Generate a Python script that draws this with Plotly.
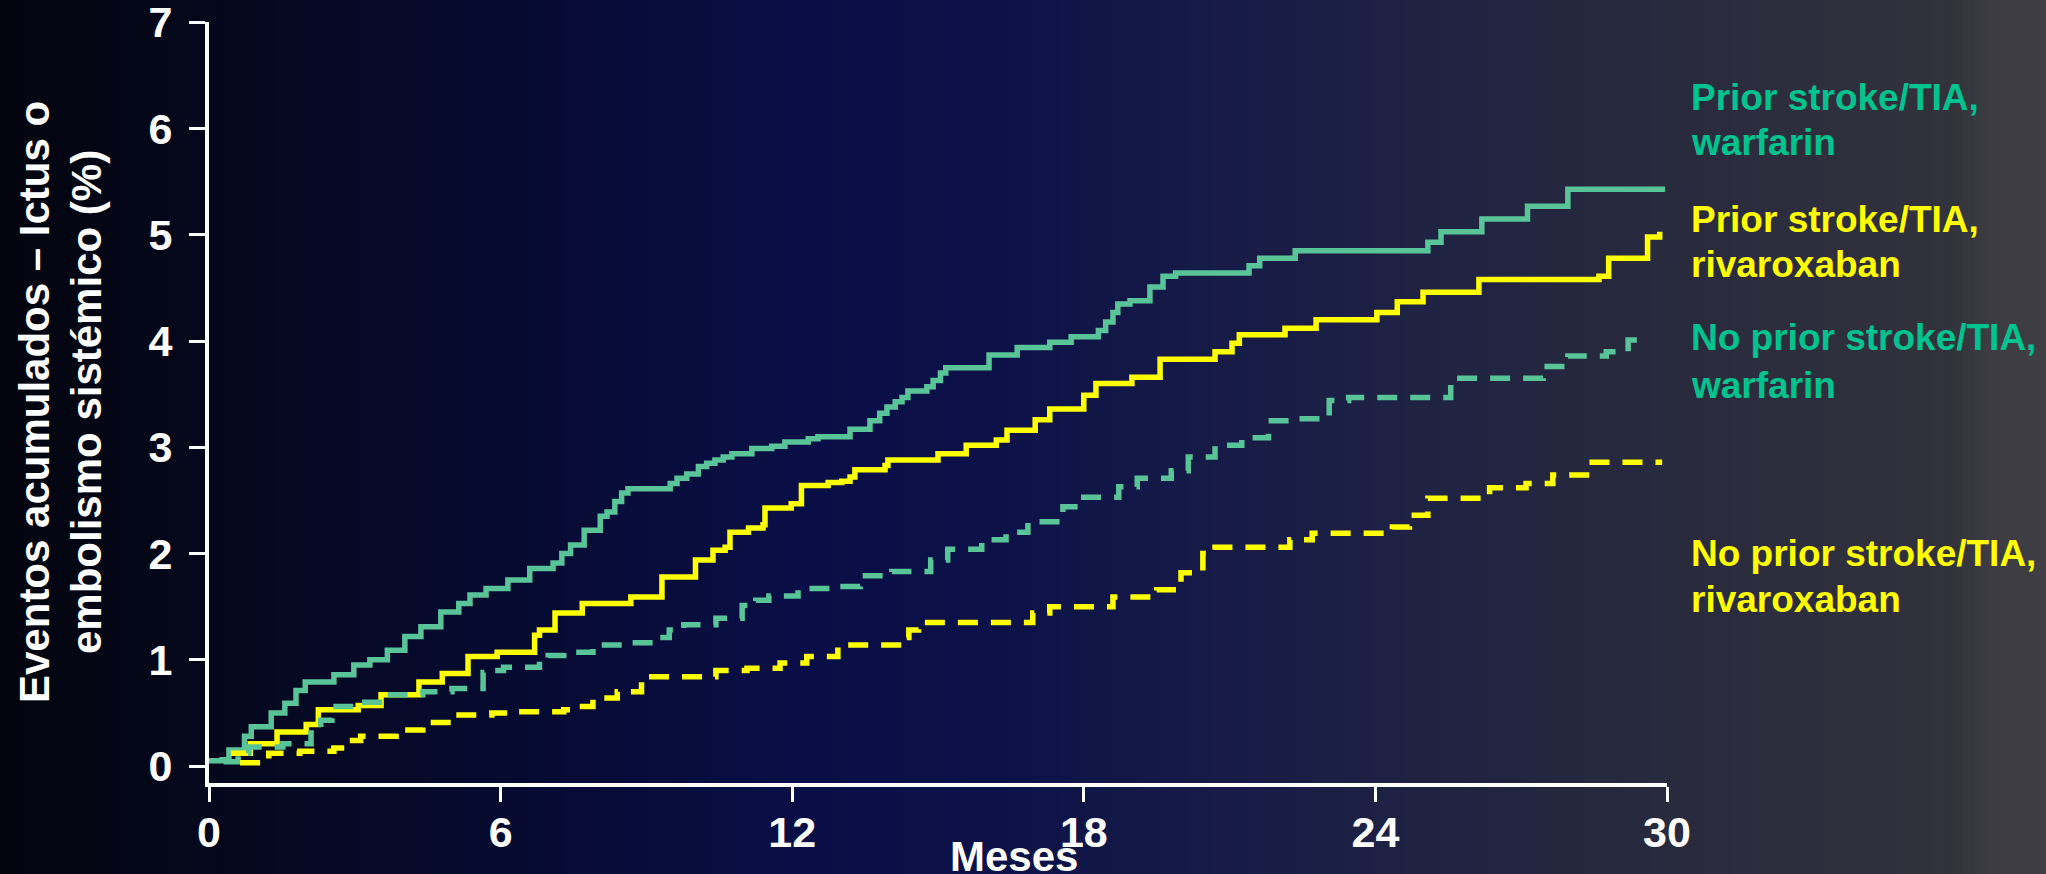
import numpy as np
import plotly.graph_objects as go

W, H = 2046, 874
ML, MR, MT, MB = 209, 379, 22, 91
PW, PH = W - ML - MR, H - MT - MB

# Cumulative event curves: month of each step and cumulative % after it
prior_warf_m = [0.0, 0.27, 0.41, 0.73, 0.87, 1.28, 1.56, 1.79, 1.98, 2.57, 2.98, 3.31, 3.67, 4.03, 4.36,
                4.77, 5.14, 5.37, 5.70, 6.15, 6.60, 7.08, 7.26, 7.44, 7.72, 8.05, 8.19, 8.35, 8.49, 8.62,
                9.49, 9.63, 9.83, 10.07, 10.24, 10.41, 10.58, 10.76, 11.17, 11.58, 11.85, 12.33, 12.53,
                13.19, 13.60, 13.80, 13.95, 14.12, 14.26, 14.38, 14.77, 14.90, 15.05, 15.16, 16.05, 16.63,
                17.30, 17.74, 18.30, 18.45, 18.60, 18.70, 18.95, 19.36, 19.63, 19.89, 21.40, 21.62, 22.35,
                25.08, 25.35, 26.19, 27.13, 27.96, 29.96]
prior_warf_v = [0.05, 0.06, 0.15, 0.28, 0.37, 0.50, 0.59, 0.71, 0.79, 0.86, 0.95, 1.00, 1.09, 1.22, 1.31,
                1.45, 1.53, 1.61, 1.67, 1.75, 1.86, 1.91, 2.00, 2.08, 2.22, 2.35, 2.39, 2.49, 2.57, 2.61,
                2.66, 2.71, 2.75, 2.82, 2.85, 2.88, 2.91, 2.94, 2.99, 3.01, 3.05, 3.08, 3.10,
                3.17, 3.25, 3.32, 3.38, 3.43, 3.47, 3.53, 3.57, 3.63, 3.70, 3.75, 3.87, 3.94,
                3.99, 4.04, 4.10, 4.18, 4.27, 4.35, 4.38, 4.51, 4.61, 4.64, 4.71, 4.78, 4.85,
                4.93, 5.03, 5.15, 5.27, 5.43, 5.43]

prior_riva_m = [0.45, 0.85, 1.40, 2.00, 2.25, 3.07, 3.54, 4.32, 4.80, 5.33, 5.93, 6.70, 6.80, 7.12, 7.68,
                8.68, 9.32, 10.01, 10.37, 10.62, 10.72, 11.10, 11.40, 11.44, 11.98, 12.19, 12.74, 13.02,
                13.19, 13.29, 13.91, 13.97, 15.00, 15.58, 16.20, 16.42, 17.00, 17.30, 18.00, 18.25, 18.99,
                19.57, 20.70, 21.05, 21.20, 22.14, 22.78, 24.03, 24.45, 24.98, 26.13, 28.60, 28.80, 29.60,
                29.85]
prior_riva_v = [0.12, 0.21, 0.32, 0.39, 0.53, 0.57, 0.67, 0.79, 0.87, 1.03, 1.07, 1.23, 1.28, 1.44, 1.53,
                1.59, 1.78, 1.94, 2.03, 2.06, 2.20, 2.24, 2.27, 2.43, 2.47, 2.64, 2.67, 2.68,
                2.72, 2.79, 2.83, 2.88, 2.94, 3.02, 3.07, 3.16, 3.26, 3.36, 3.49, 3.60, 3.66,
                3.83, 3.90, 3.98, 4.06, 4.12, 4.20, 4.27, 4.37, 4.46, 4.58, 4.61, 4.78, 4.98,
                5.03]

noprior_warf_m = [0.30, 0.60, 0.82, 1.52, 2.10, 2.30, 2.53, 3.02, 3.62, 4.40, 5.00, 5.64, 5.78, 6.06, 6.80,
                  6.98, 7.30, 7.90, 8.58, 9.28, 9.47, 9.77, 10.43, 10.97, 11.25, 11.52, 12.12, 12.86, 13.40,
                  14.05, 14.85, 15.20, 15.90, 16.40, 16.85, 17.57, 18.00, 18.72, 19.10, 19.80, 20.15, 20.70,
                  21.25, 21.80, 22.40, 23.05, 23.45, 25.55, 27.45, 27.96, 28.75, 29.20, 29.60]
noprior_warf_v = [0.04, 0.12, 0.18, 0.21, 0.34, 0.43, 0.56, 0.60, 0.67, 0.70, 0.73, 0.88, 0.90, 0.93, 1.00,
                  1.04, 1.07, 1.14, 1.16, 1.21, 1.28, 1.33, 1.39, 1.51, 1.56, 1.60, 1.67, 1.69, 1.79,
                  1.83, 1.94, 2.04, 2.13, 2.20, 2.30, 2.44, 2.53, 2.63, 2.71, 2.78, 2.91, 3.02,
                  3.09, 3.25, 3.27, 3.44, 3.47, 3.65, 3.76, 3.86, 3.90, 4.01, 4.01]

noprior_riva_m = [0.64, 1.23, 1.87, 2.57, 2.84, 3.12, 3.85, 4.40, 5.04, 5.82, 6.15, 7.30, 7.57, 7.90, 8.40,
                  8.90, 10.43, 11.07, 11.75, 12.30, 12.94, 14.32, 14.40, 14.60, 16.95, 17.30, 18.60, 19.50,
                  20.00, 20.45, 20.70, 22.24, 22.70, 24.35, 24.70, 25.08, 26.35, 27.10, 27.65, 28.40, 29.90]
noprior_riva_v = [0.03, 0.12, 0.14, 0.17, 0.24, 0.28, 0.34, 0.41, 0.48, 0.50, 0.51, 0.53, 0.56, 0.64, 0.70,
                  0.84, 0.90, 0.92, 0.97, 1.03, 1.14, 1.21, 1.28, 1.35, 1.44, 1.50, 1.59, 1.66,
                  1.82, 2.00, 2.06, 2.13, 2.19, 2.25, 2.36, 2.52, 2.62, 2.66, 2.74, 2.86, 2.86]

x_ticks = [0, 6, 12, 18, 24, 30]
y_ticks = [0, 1, 2, 3, 4, 5, 6, 7]

series_names = ["Prior stroke/TIA, warfarin", "Prior stroke/TIA, rivaroxaban",
                "No prior stroke/TIA, warfarin", "No prior stroke/TIA, rivaroxaban"]
label_lines = [["Prior stroke/TIA,", "warfarin"],
               ["Prior stroke/TIA,", "rivaroxaban"],
               ["No prior stroke/TIA,", "warfarin"],
               ["No prior stroke/TIA,", "rivaroxaban"]]

TEAL_LINE = "#58C498"
TEAL_TEXT = "#00C48F"
YELLOW = "#FFFF00"
FONT = "Liberation Sans, Arial, sans-serif"


def px_x(p):
    return (p - ML) / PW


def px_y(p):
    return (H - MB - p) / PH


fig = go.Figure()

curves = [
    (prior_warf_m, prior_warf_v, TEAL_LINE, "solid"),
    (prior_riva_m, prior_riva_v, YELLOW, "solid"),
    (noprior_warf_m, noprior_warf_v, TEAL_LINE, "20px,13px"),
    (noprior_riva_m, noprior_riva_v, YELLOW, "20px,13px"),
]
for name, (m, v, col, dash) in zip(series_names, curves):
    fig.add_trace(go.Scatter(x=m, y=v, mode="lines", name=name,
                             line=dict(color=col, width=5.5, dash=dash, shape="hv"),
                             showlegend=False, hoverinfo="skip"))

# Horizontal background gradient: near black -> navy -> slate grey
stops_px = [0, 200, 500, 800, 1000, 1300, 1600, 1950, 1990, 2046]
stops_rgb = np.array([[3, 4, 14], [5, 8, 28], [6, 10, 48], [9, 15, 70], [12, 18, 72],
                      [26, 30, 70], [38, 40, 62], [50, 50, 60], [60, 60, 66], [62, 62, 68]], float)
shapes = []
step = 6
for x0 in range(0, W, step):
    xc = x0 + step / 2
    rgb = [np.interp(xc, stops_px, stops_rgb[:, k]) for k in range(3)]
    shapes.append(dict(type="rect", xref="paper", yref="paper", layer="below",
                       x0=px_x(x0), x1=px_x(x0 + step + 1), y0=px_y(H + 5), y1=px_y(-5),
                       line=dict(width=0),
                       fillcolor="rgb(%d,%d,%d)" % tuple(int(round(c)) for c in rgb)))

annotations = []
# Series labels at the right
label_y = [(97.5, 142.5), (219.5, 264.5), (337.5, 385.5), (553.5, 599.5)]
label_col = [TEAL_TEXT, YELLOW, TEAL_TEXT, YELLOW]
for lines, ys, col in zip(label_lines, label_y, label_col):
    for txt, yy in zip(lines, ys):
        annotations.append(dict(text=txt, xref="paper", yref="paper", x=px_x(1689), y=px_y(yy),
                                xanchor="left", yanchor="middle", showarrow=False,
                                font=dict(family=FONT, size=37, color=col, weight="bold")))

# Axis titles
annotations.append(dict(text="Meses", xref="paper", yref="paper", x=px_x(1014), y=px_y(856),
                        xanchor="center", yanchor="middle", showarrow=False,
                        font=dict(family=FONT, size=42, color="white", weight="bold")))
for txt, xx in [("Eventos acumulados – Ictus o", 34), ("embolismo sistémico (%)", 86)]:
    annotations.append(dict(text=txt, xref="paper", yref="paper", x=px_x(xx), y=px_y(402),
                            xanchor="center", yanchor="middle", showarrow=False, textangle=-90,
                            font=dict(family=FONT, size=42, color="white", weight="bold")))

fig.update_layout(
    width=W, height=H, autosize=False,
    margin=dict(l=ML, r=MR, t=MT, b=MB, pad=0, autoexpand=False),
    paper_bgcolor="rgb(3,4,14)", plot_bgcolor="rgba(0,0,0,0)",
    shapes=shapes, annotations=annotations, showlegend=False,
    xaxis=dict(range=[0, 30], tickvals=x_ticks, ticktext=[str(t) for t in x_ticks],
               showgrid=False, zeroline=False, showline=True, linecolor="white", linewidth=4,
               ticks="outside", ticklen=15, tickwidth=3, tickcolor="white",
               ticklabelstandoff=-7, ticklabeloverflow="allow", automargin=False,
               tickfont=dict(family=FONT, size=43, color="white", weight="bold"),
               fixedrange=True),
    yaxis=dict(range=[-0.16, 7.004], tickvals=y_ticks, ticktext=[str(t) for t in y_ticks],
               showgrid=False, zeroline=False, showline=True, linecolor="white", linewidth=4,
               ticks="outside", ticklen=16, tickwidth=3, tickcolor="white",
               ticklabelstandoff=8, ticklabeloverflow="allow", automargin=False,
               tickfont=dict(family=FONT, size=43, color="white", weight="bold"),
               fixedrange=True),
)

fig.write_html("out.html")
